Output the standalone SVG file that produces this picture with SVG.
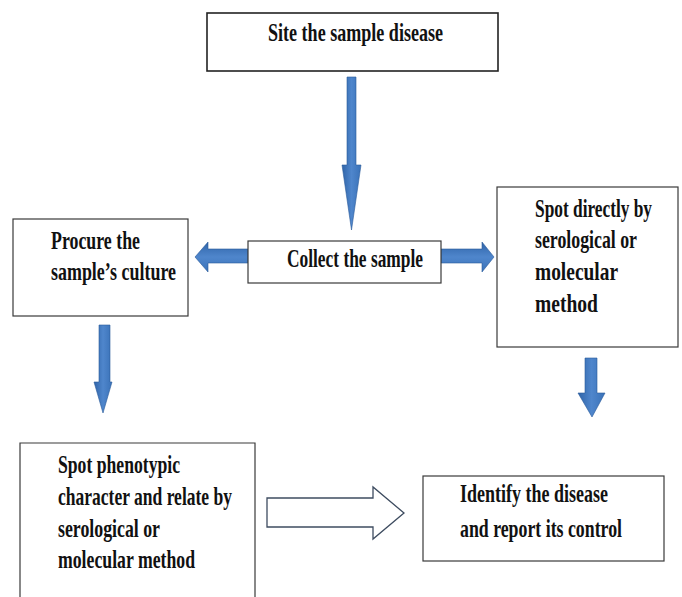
<svg xmlns="http://www.w3.org/2000/svg" width="682" height="597" viewBox="0 0 682 597">
<defs>
<linearGradient id="blueV" x1="0" y1="0" x2="1" y2="0">
<stop offset="0" stop-color="#2f64a8"/>
<stop offset="0.5" stop-color="#4f86cc"/>
<stop offset="1" stop-color="#3a72b8"/>
</linearGradient>
<linearGradient id="blueH" x1="0" y1="0" x2="0" y2="1">
<stop offset="0" stop-color="#2f64a8"/>
<stop offset="0.5" stop-color="#4f86cc"/>
<stop offset="1" stop-color="#3a72b8"/>
</linearGradient>
</defs>
<style>
.box{fill:#fff;stroke:#3a3a3a;stroke-width:1.2}
.t{font-family:"Liberation Serif","DejaVu Serif",serif;font-weight:bold;font-size:24.5px;fill:#111}
.av{fill:url(#blueV);stroke:#2a5a9a;stroke-width:0.6}
.ah{fill:url(#blueH);stroke:#2a5a9a;stroke-width:0.6}
.hollow{fill:#fff;stroke:#3e4c60;stroke-width:1.3}
</style>
<rect width="682" height="597" fill="#fff"/>
<g id="connectors">
<polygon class="av" points="347,77 356,77 356,165 361,165 351.5,230 342,165 347,165"/>
<polygon class="ah" points="248,249 208,249 208,242 195,257 208,272 208,263 248,263"/>
<polygon class="ah" points="441,249 482,249 482,242 494,257 482,272 482,263 441,263"/>
<polygon class="av" points="99,325 110,325 110,382 112,382 103,413 94,382 99,382"/>
<polygon class="av" points="585,358 597,358 597,393 605,393 592,417 578,393 585,393"/>
<polygon class="hollow" points="267,498 373,498 373,487 404,513 373,539 373,527 267,527"/>
</g>
<g id="n1">
<rect class="box" x="207" y="13" width="291" height="58" style="stroke:#222;stroke-width:1.6"/>
<text class="t" x="268" y="41" textLength="175" lengthAdjust="spacingAndGlyphs">Site the sample disease</text>
</g>
<g id="n2">
<rect class="box" x="248" y="241" width="193" height="42"/>
<text class="t" x="287" y="267" textLength="136" lengthAdjust="spacingAndGlyphs">Collect the sample</text>
</g>
<g id="n3">
<rect class="box" x="13" y="219" width="175" height="97"/>
<text class="t" x="51" y="249" textLength="89" lengthAdjust="spacingAndGlyphs">Procure the</text>
<text class="t" x="51" y="280" textLength="125" lengthAdjust="spacingAndGlyphs">sample’s culture</text>
</g>
<g id="n4">
<rect class="box" x="497" y="187" width="181" height="160"/>
<text class="t" transform="translate(535,217) scale(0.705,1)" x="0" y="0" textLength="166" lengthAdjust="spacingAndGlyphs">Spot directly by</text>
<text class="t" x="535" y="248" textLength="102" lengthAdjust="spacingAndGlyphs">serological or</text>
<text class="t" x="535" y="280" textLength="83" lengthAdjust="spacingAndGlyphs">molecular</text>
<text class="t" x="535" y="312" textLength="63" lengthAdjust="spacingAndGlyphs">method</text>
</g>
<g id="n5">
<path class="box" d="M20,600 L20,443 L255,443 L255,600"/>
<text class="t" x="58" y="473" textLength="122" lengthAdjust="spacingAndGlyphs">Spot phenotypic</text>
<text class="t" x="58" y="505" textLength="174" lengthAdjust="spacingAndGlyphs">character and relate by</text>
<text class="t" x="58" y="537" textLength="102" lengthAdjust="spacingAndGlyphs">serological or</text>
<text class="t" x="58" y="568" textLength="137" lengthAdjust="spacingAndGlyphs">molecular method</text>
</g>
<g id="n6">
<rect class="box" x="423" y="476" width="241" height="85"/>
<text class="t" x="460" y="502" textLength="148" lengthAdjust="spacingAndGlyphs">Identify the disease</text>
<text class="t" x="460" y="537" textLength="162" lengthAdjust="spacingAndGlyphs">and report its control</text>
</g>
</svg>
